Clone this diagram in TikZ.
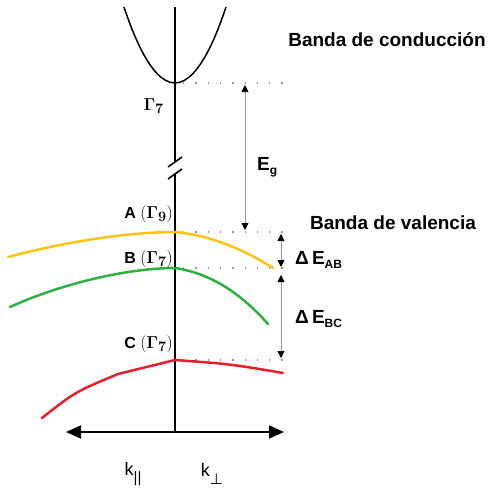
\documentclass[tikz,border=0pt]{standalone}
\usepackage[no-math]{fontspec}
\setmainfont{Liberation Sans}
\newfontfamily\symfont{DejaVu Sans}
\usepackage{tikz}
\usetikzlibrary{positioning,arrows.meta}
\definecolor{bandA}{RGB}{250,196,20}
\definecolor{bandB}{RGB}{45,178,65}
\definecolor{bandC}{RGB}{232,30,45}
\definecolor{guide}{RGB}{150,150,150}
\newcommand{\lowsub}[1]{\raisebox{-0.45ex}{\fontsize{12}{12}\selectfont #1}}
\newcommand{\gam}[1]{{\fontsize{19}{20}\selectfont$\mathbf{(\Gamma_{#1})}$}}
\newcommand{\ksub}[1]{\raisebox{-0.8ex}{\fontsize{15}{15}\selectfont #1}}

\begin{document}
\begin{tikzpicture}[x=1pt,y=-1pt,
  axisline/.style={line width=2.4pt,black},
  band/.style={line width=2.5pt,line cap=round},
  dotline/.style={guide,line width=1.3pt,dash pattern=on 1.3pt off 11pt},
  gapline/.style={guide,line width=0.9pt,{Triangle[color=black,length=7pt,width=7pt]}-{Triangle[color=black,length=7pt,width=7pt]}},
  lbl/.style={font=\fontsize{19}{20}\selectfont\bfseries,inner sep=0pt},
  pt/.style={font=\fontsize{16}{18}\selectfont\bfseries,inner sep=0pt,anchor=east}]
\useasboundingbox (0,0) rectangle (491,490);

% points on the axis
\coordinate (top) at (175,7);
\coordinate (brk1) at (175,162);
\coordinate (brk2) at (175,174);
\coordinate (G7) at (175,83);
\coordinate (A) at (175,232);
\coordinate (B) at (175,268);
\coordinate (C) at (175,360);
\coordinate (orig) at (175,432);
\coordinate (kleft) at (66,432);
\coordinate (kright) at (284,432);

% vertical axis with break
\draw[axisline] (top) -- (brk1);
\draw[axisline] (brk2) -- (orig);
\draw[line width=1.6pt] ([shift={(-7,5)}]brk1) -- ([shift={(7,-5)}]brk1);
\draw[line width=1.6pt] ([shift={(-7,5)}]brk2) -- ([shift={(7,-5)}]brk2);

% k axis
\draw[line width=1.8pt,{Triangle[length=15pt,width=13pt]}-{Triangle[length=15pt,width=13pt]}] (kleft) -- (kright);

% conduction band
\draw[line width=1.5pt] (124,7) parabola bend (G7) (226,7);

% dotted guides
\foreach \p in {G7,A,B,C}
  \draw[dotline] (\p) ++(8,0) -- ++(105,0);

% valence bands
\draw[band,bandA] (8,257) .. controls (80,238) and (140,232) .. (A)
  .. controls (210,235) and (245,250) .. (273,268);
\draw[band,bandB] (10,307) .. controls (70,280) and (135,268) .. (B)
  .. controls (215,274) and (245,298) .. (268,324);
\draw[band,bandC] (42,418) .. controls (75,392) .. (118,374) -- (C)
  .. controls (230,364) .. (283,373);

% energy gaps
\coordinate (egT) at (245,85);
\coordinate (egB) at (245,230);
\coordinate (abT) at (281,234);
\coordinate (abB) at (281,267);
\coordinate (bcT) at (281,275);
\coordinate (bcB) at (281,358);
\draw[gapline] (egT) -- (egB);
\draw[gapline] (abT) -- (abB);
\draw[gapline] (bcT) -- (bcB);

% labels
\node[lbl] (conduccion) at (387,40) {Banda de conducción};
\node[lbl] (valencia) at (393,223) {Banda de valencia};
\node[lbl,anchor=west] (gap) at (257,167) {E\lowsub{g}};
\node[lbl,anchor=west] (dAB) at (295,260) {Δ\,E\lowsub{AB}};
\node[lbl,anchor=west] (dBC) at (295,319) {Δ\,E\lowsub{BC}};
\node[pt] (labG) at (164,106) {{\fontsize{19}{20}\selectfont$\mathbf{\Gamma_7}$}};
\node[pt] (labA) at (173,214) {A \gam{9}};
\node[pt] (labB) at (173,259) {B \gam{7}};
\node[pt] (labC) at (173,344) {C \gam{7}};
\node[font=\fontsize{18}{18}\selectfont,inner sep=0pt] (kpar) at (133,474) {k\ksub{||}};
\node[font=\fontsize{18}{18}\selectfont,inner sep=0pt] (kperp) at (212,474) {k\ksub{\symfont ⊥}};
\end{tikzpicture}
\end{document}
